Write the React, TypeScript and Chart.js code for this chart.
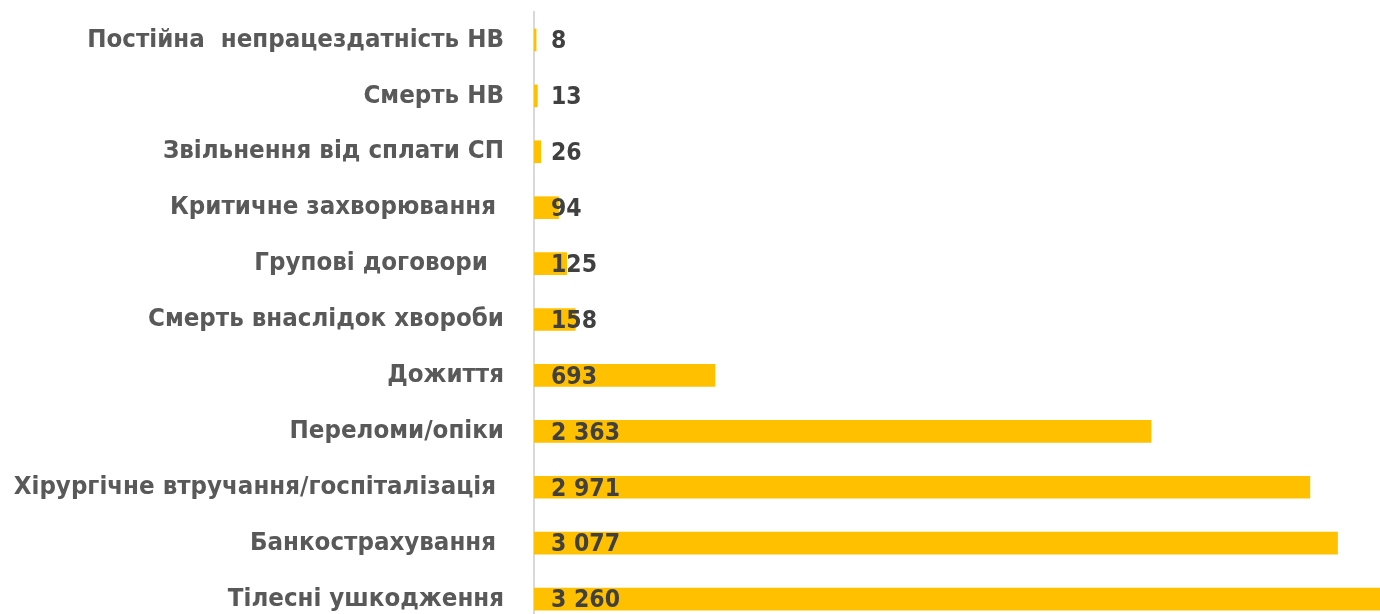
import React, { useEffect, useRef } from "react";
import { Chart, registerables } from "chart.js";

Chart.register(...registerables);

const categories: string[] = [
  "Постійна  непрацездатність НВ",
  "Смерть НВ",
  "Звільнення від сплати СП",
  "Критичне захворювання ",
  "Групові договори  ",
  "Смерть внаслідок хвороби",
  "Дожиття",
  "Переломи/опіки",
  "Хірургічне втручання/госпіталізація ",
  "Банкострахування ",
  "Тілесні ушкодження",
];

const values: number[] = [8, 13, 26, 94, 125, 158, 693, 2363, 2971, 3077, 3260];

const FONT_FAMILY = '"DejaVu Sans Condensed", "DejaVu Sans", sans-serif';

const fmt = (v: number) => String(v).replace(/\B(?=(\d{3})+(?!\d))/g, " ");

const valueLabels = {
  id: "valueLabels",
  afterDatasetsDraw(chart: any) {
    const ctx = chart.ctx;
    const meta = chart.getDatasetMeta(0);
    ctx.save();
    ctx.font = `bold 24.5px ${FONT_FAMILY}`;
    ctx.fillStyle = "#404040";
    ctx.textAlign = "left";
    ctx.textBaseline = "middle";
    meta.data.forEach((bar: any, i: number) => {
      const v = chart.data.datasets[0].data[i] as number;
      ctx.fillText(fmt(v), bar.base + 17, bar.y + 2);
    });
    ctx.restore();
  },
};

export default function App() {
  const ref = useRef<HTMLCanvasElement | null>(null);

  useEffect(() => {
    if (!ref.current) return;
    const chart = new Chart(ref.current, {
      type: "bar",
      data: {
        labels: categories,
        datasets: [
          {
            data: values,
            backgroundColor: "#FFC000",
            borderWidth: 0,
            barThickness: 22,
          },
        ],
      },
      options: {
        indexAxis: "y",
        responsive: false,
        animation: false,
        layout: { padding: { top: 12, left: 0, right: 0, bottom: 0 } },
        plugins: {
          legend: { display: false },
          tooltip: { enabled: false },
        },
        scales: {
          x: {
            display: false,
            min: 0,
            max: 3500,
          },
          y: {
            grid: { display: false, drawTicks: false },
            border: { display: true, color: "#D9D9D9", width: 2 },
            ticks: {
              color: "#595959",
              padding: 30,
              font: { family: FONT_FAMILY, size: 25.6, weight: "bold" },
            },
            afterFit(scale: any) {
              scale.width = 534;
              scale.paddingTop = 0;
              scale.paddingBottom = 0;
            },
          },
        },
      },
      plugins: [valueLabels],
    });
    return () => chart.destroy();
  }, []);

  return (
    <div
      style={{
        position: "absolute",
        left: 0,
        top: 0,
        width: 1380,
        height: 614,
        overflow: "hidden",
        background: "#ffffff",
      }}
    >
      <canvas ref={ref} width={1448} height={627} style={{ display: "block" }} />
    </div>
  );
}
